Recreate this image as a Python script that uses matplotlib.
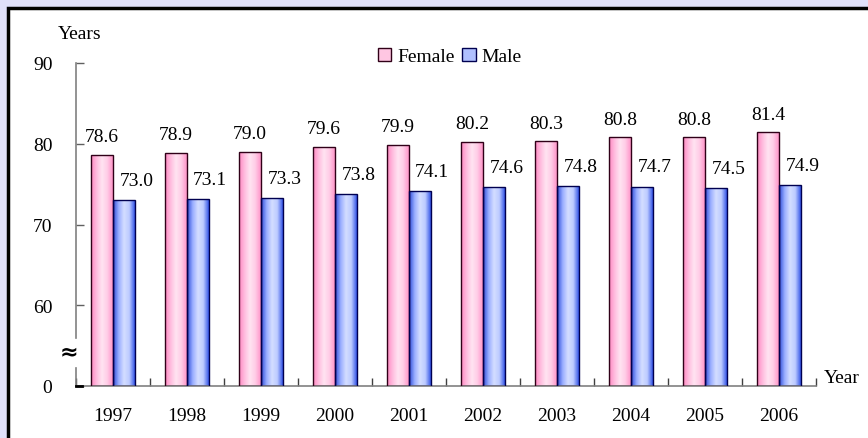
import numpy as np
import matplotlib
matplotlib.use('Agg')
import matplotlib.pyplot as plt
from matplotlib.colors import LinearSegmentedColormap
from matplotlib.patches import Rectangle

# Life expectancy data
years = ['1997', '1998', '1999', '2000', '2001', '2002', '2003', '2004', '2005', '2006']
female = [78.6, 78.9, 79.0, 79.6, 79.9, 80.2, 80.3, 80.8, 80.8, 81.4]
male = [73.0, 73.1, 73.3, 73.8, 74.1, 74.6, 74.8, 74.7, 74.5, 74.9]
ytick_vals = [50, 60, 70, 80, 90]
ytick_labels = ['0', '60', '70', '80', '90']
base = 50  # axis is broken: "0" sits where 50 would be

plt.rcParams['font.family'] = ['Liberation Serif', 'DejaVu Serif']

fig = plt.figure(figsize=(8.68, 4.39), dpi=100)
fig.patch.set_facecolor('#e0e0fa')

# white panel with black frame (runs off right/bottom edge)
fig.patches.append(Rectangle((8 / 868, -0.05), 1.0, 1 - 9 / 439 + 0.05,
                             transform=fig.transFigure, facecolor='white',
                             edgecolor='black', linewidth=2.5, zorder=-5))

ax = fig.add_axes([76 / 868, 1 - 387 / 439, 740 / 868, 323 / 439])
ax.set_facecolor('none')
ax.set_zorder(2)

x = np.arange(len(years))
w = 0.292
pink = LinearSegmentedColormap.from_list('pink', ['#ff88c2', '#ffbcde', '#ffe4f2', '#ffcce6', '#ff96ca'])
blue = LinearSegmentedColormap.from_list('blue', ['#2c4cd8', '#98acff', '#d4deff', '#bccaff', '#3656e8'])
grad = np.linspace(0, 1, 64).reshape(1, -1)

fbars = ax.bar(x - w / 2, np.array(female) - base, w, bottom=base, color='none',
               edgecolor='#300018', linewidth=1.0, zorder=3)
mbars = ax.bar(x + w / 2, np.array(male) - base, w, bottom=base, color='none',
               edgecolor='#000050', linewidth=1.0, zorder=3)

for bars, cmap in ((fbars, pink), (mbars, blue)):
    for b in bars:
        x0, wd, h = b.get_x(), b.get_width(), b.get_height()
        im = ax.imshow(grad, cmap=cmap, aspect='auto', extent=(x0, x0 + wd, base, base + h), zorder=2)
        im.set_clip_path(b)

for i in range(len(years)):
    ax.annotate(f'{female[i]:.1f}', (x[i] - w / 2, female[i]), xytext=(0, 7),
                textcoords='offset points', ha='center', va='bottom', fontsize=14)
    ax.annotate(f'{male[i]:.1f}', (x[i] + w / 2, male[i]), xytext=(9, 8),
                textcoords='offset points', ha='center', va='bottom', fontsize=14)

ax.set_xlim(-0.5, len(years) - 0.5)
ax.set_ylim(50, 90)
ax.set_yticks(ytick_vals)
ax.set_yticklabels(ytick_labels, fontsize=14)
ax.set_xticks(x)
ax.set_xticklabels(years, fontsize=14)
ax.tick_params(axis='x', length=0, pad=15)
ax.tick_params(axis='y', direction='in', length=6, width=1, color='#606060', pad=17)

# group boundary ticks on x axis
ax.set_xticks(np.arange(-0.5, len(years)), minor=True)
ax.tick_params(axis='x', which='minor', direction='in', length=6, width=1, color='#404040')

for s in ['top', 'right', 'left']:
    ax.spines[s].set_visible(False)
ax.spines['bottom'].set_color('#808080')
ax.spines['bottom'].set_linewidth(1.2)

# broken y axis
ax.plot([-0.5, -0.5], [50, 52.2], color='#808080', lw=1.2, clip_on=False, zorder=4)
ax.plot([-0.5, -0.5], [56.0, 90], color='#808080', lw=1.2, clip_on=False, zorder=4)
ax.text(-0.6, 54.3, '≈', ha='center', va='center', fontsize=16, fontweight='bold',
        family=['DejaVu Sans'])
ax.plot([-0.5, -0.42], [50, 50], color='black', lw=2, clip_on=False, zorder=4)

ax.text(-0.45, 93.7, 'Years', ha='center', va='center', fontsize=14)
ax.text(1.01, 0, 'Year', transform=ax.transAxes, ha='left', va='bottom', fontsize=14)

leg = ax.legend([Rectangle((0, 0), 1, 1, facecolor='#ffc6e2', edgecolor='#300018'),
                 Rectangle((0, 0), 1, 1, facecolor='#b0c0ff', edgecolor='#000050')],
                ['Female', 'Male'], loc='center', bbox_to_anchor=(0.505, 1.02),
                ncol=2, frameon=False, fontsize=14, handlelength=0.7, handleheight=0.7,
                handletextpad=0.3, columnspacing=0.4, borderpad=0)

fig.savefig('out.png', dpi=100, facecolor=fig.get_facecolor())
